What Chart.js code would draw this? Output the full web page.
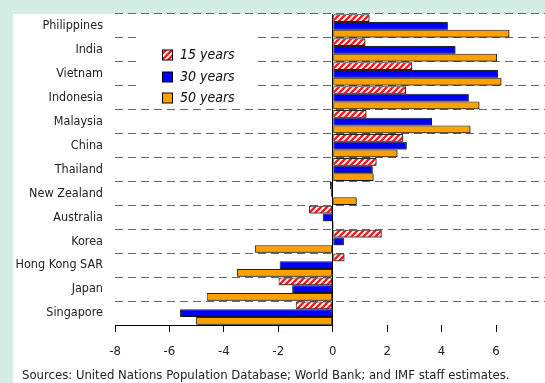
<!DOCTYPE html>
<html>
<head>
<meta charset="utf-8">
<script src="https://cdn.jsdelivr.net/npm/chart.js@4/dist/chart.umd.min.js"></script>
<style>
  html, body { margin: 0; padding: 0; background: #d5eee5; }
  #wrap { position: absolute; left: 0; top: 0; width: 545px; height: 383px; }
</style>
</head>
<body>
<div id="wrap"><canvas id="myChart" width="545" height="383"></canvas></div>
<script>
// values
var countries = ['Philippines', 'India', 'Vietnam', 'Indonesia', 'Malaysia', 'China', 'Thailand',
  'New Zealand', 'Australia', 'Korea', 'Hong Kong SAR', 'Japan', 'Singapore']
var years15 = [1.35, 1.2, 2.92, 2.69, 1.24, 2.59, 1.61, -0.1, -0.87, 1.8, 0.43, -1.99, -1.36]
var years30 = [4.23, 4.51, 6.07, 5.0, 3.65, 2.72, 1.47, -0.06, -0.37, 0.41, -1.95, -1.49, -5.61]
var years50 = [6.49, 6.04, 6.2, 5.39, 5.06, 2.38, 1.5, 0.88, 0.04, -2.86, -3.52, -4.63, -5.02]
var tickVals = [-8, -6, -4, -2, 0, 2, 4, 6]
var seriesNames = ['15 years', '30 years', '50 years']
var sourceNote = 'Sources: United Nations Population Database; World Bank; and IMF staff estimates.'

var FONT = '"Liberation Sans Narrow", "DejaVu Sans Condensed", Arial, sans-serif'

function hatch() {
  var c = document.createElement('canvas')
  c.width = 6; c.height = 6
  var g = c.getContext('2d')
  g.fillStyle = '#fff'
  g.fillRect(0, 0, 6, 6)
  g.strokeStyle = '#ff1a1a'
  g.lineWidth = 2.4
  g.beginPath()
  g.moveTo(-1, 7); g.lineTo(7, -1)
  g.moveTo(-4, 4); g.lineTo(4, -4)
  g.moveTo(2, 10); g.lineTo(10, 2)
  g.stroke()
  return g.createPattern(c, 'repeat')
}

var ctx = document.getElementById('myChart').getContext('2d')
var red = hatch()
var fills = [red, '#0000ff', '#ffa000']

var panel = {
  id: 'panel',
  beforeDraw: function (chart) {
    var c = chart.ctx
    c.save()
    c.fillStyle = '#d5eee5'
    c.fillRect(0, 0, chart.width, chart.height)
    c.fillStyle = '#fff'
    c.fillRect(13, 14, chart.width - 13, chart.height - 14)
    c.restore()
  },
  beforeDatasetsDraw: function (chart) {
    var c = chart.ctx
    c.save()
    c.shadowColor = 'rgba(0,0,0,0.45)'
    c.shadowOffsetX = 1
    c.shadowOffsetY = 1
  },
  afterDatasetsDraw: function (chart) {
    chart.ctx.restore()
  },
  afterDraw: function (chart) {
    var c = chart.ctx
    var a = chart.chartArea
    var x0 = chart.scales.x.getPixelForValue(0)
    c.save()
    // axis line, only drawn up to zero as in the original
    c.strokeStyle = '#000'
    c.lineWidth = 1
    c.beginPath()
    c.moveTo(a.left, Math.round(a.bottom) + 0.5)
    c.lineTo(x0 + 0.5, Math.round(a.bottom) + 0.5)
    c.stroke()

    // legend box inside the plot
    c.fillStyle = '#fff'
    c.fillRect(139, 30, 115, 75)
    var rows = [55, 77, 98]
    c.font = 'italic 14px ' + FONT
    c.textBaseline = 'middle'
    for (var i = 0; i < seriesNames.length; i++) {
      c.fillStyle = fills[i]
      c.fillRect(162.5, rows[i] - 5, 10, 10)
      c.strokeStyle = '#000'
      c.strokeRect(162.5, rows[i] - 5, 10, 10)
      c.fillStyle = '#111'
      c.fillText(seriesNames[i], 180, rows[i] + 0.5)
    }

    c.font = '13px ' + FONT
    c.fillStyle = '#222'
    c.fillText(sourceNote, 22, 376)
    c.restore()
  }
}

var chart = new Chart(ctx, {
  type: 'bar',
  data: {
    labels: countries,
    datasets: [
      { label: seriesNames[0], data: years15, backgroundColor: red },
      { label: seriesNames[1], data: years30, backgroundColor: '#0000ff' },
      { label: seriesNames[2], data: years50, backgroundColor: '#ffa000' }
    ]
  },
  options: {
    indexAxis: 'y',
    responsive: false,
    animation: false,
    layout: { padding: { top: 14, left: 0, right: 0, bottom: 0 } },
    datasets: {
      bar: {
        borderColor: '#222',
        borderWidth: 1,
        borderSkipped: false,
        categoryPercentage: 0.97,
        barPercentage: 1
      }
    },
    plugins: {
      legend: { display: false },
      tooltip: { enabled: false }
    },
    scales: {
      x: {
        min: -8,
        max: 7.8,
        afterBuildTicks: function (scale) {
          scale.ticks = tickVals.map(function (v) { return { value: v } })
        },
        afterFit: function (scale) {
          scale.height = 58
          scale.paddingLeft = 0
          scale.paddingRight = 0
        },
        border: { display: false },
        grid: {
          color: function (c) { return c.tick && c.tick.value === 0 ? '#000' : 'rgba(0,0,0,0)' },
          tickColor: '#000',
          tickLength: 7,
          lineWidth: 1
        },
        ticks: {
          color: '#222',
          padding: 12,
          maxRotation: 0,
          font: { family: FONT, size: 13 }
        }
      },
      y: {
        afterFit: function (scale) {
          scale.width = 115
          scale.paddingTop = 0
          scale.paddingBottom = 0
        },
        border: { display: false, dash: [8, 5] },
        grid: {
          offset: true,
          drawTicks: false,
          color: function (c) { return c.index === undefined ? 'rgba(0,0,0,0)' : '#666' }
        },
        ticks: {
          color: '#222',
          padding: 12,
          font: { family: FONT, size: 12.5 }
        }
      }
    }
  },
  plugins: [panel]
})
</script>
</body>
</html>
